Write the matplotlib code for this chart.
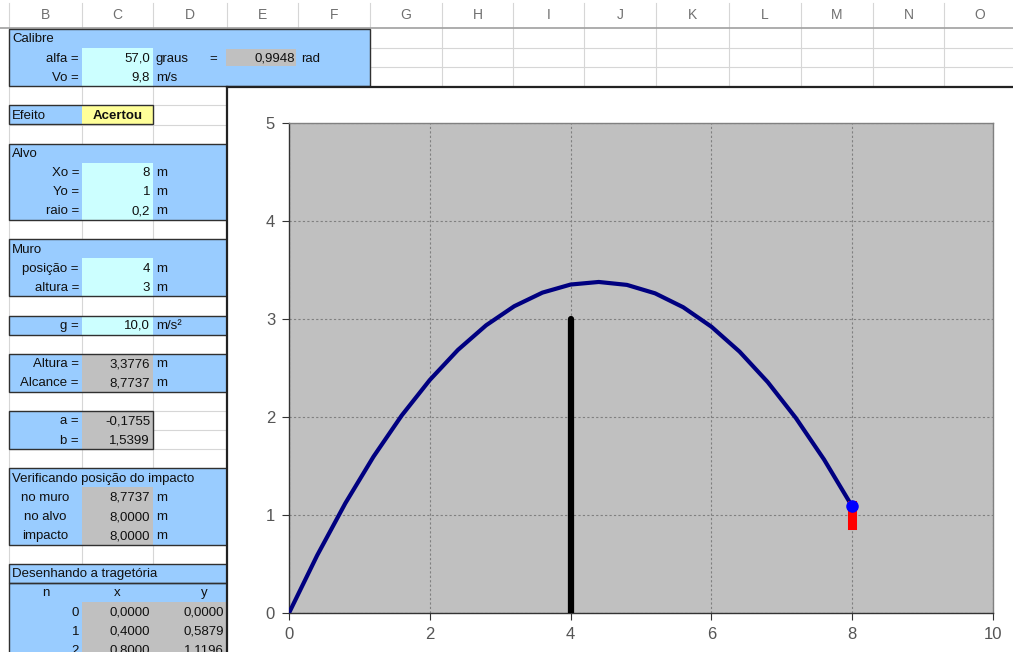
import matplotlib.pyplot as plt
from matplotlib.patches import Rectangle

plt.rcParams['font.family'] = ['Liberation Sans', 'DejaVu Sans']

# trajectory points (x, y) as listed in the sheet
traj_x = [0.0, 0.4, 0.8, 1.2, 1.6, 2.0, 2.4, 2.8, 3.2, 3.6, 4.0,
          4.4, 4.8, 5.2, 5.6, 6.0, 6.4, 6.8, 7.2, 7.6, 8.0]
traj_y = [0.0, 0.5879, 1.1196, 1.5952, 2.0146, 2.3778, 2.6849, 2.9358, 3.1306, 3.2692, 3.3516,
          3.3779, 3.3480, 3.2620, 3.1198, 2.9214, 2.6669, 2.3562, 1.9894, 1.5664, 1.0872]
wall_x = [4, 4]
wall_y = [0, 3]
target_x = [8, 8]
target_y = [0.9, 1.1]
impact_x = 8.0
impact_y = 1.0872
x_ticks = [0, 2, 4, 6, 8, 10]
y_ticks = [0, 1, 2, 3, 4, 5]

# sheet values
alfa_deg, alfa_rad, v0 = 57.0, 0.9948, 9.8
alvo = [('Xo =', '8'), ('Yo =', '1'), ('raio =', '0,2')]
muro = [('posição =', '4'), ('altura =', '3')]
g = 10.0
altura, alcance = 3.3776, 8.7737
coef_a, coef_b = -0.1755, 1.5399
verif = [('no muro', 8.7737), ('no alvo', 8.0), ('impacto', 8.0)]
n_rows = [0, 1, 2]

BLUE = '#99CCFF'
CYAN = '#CCFFFF'
GRAY = '#C0C0C0'
YELLOW = '#FFFF99'

W, H = 1013, 652
fig = plt.figure(figsize=(W / 100, H / 100), dpi=100)
sheet = fig.add_axes([0, 0, 1, 1])
sheet.set_xlim(0, W)
sheet.set_ylim(H, 0)
sheet.axis('off')

letters = list('BCDEFGHIJKLMNO')
edges = [9, 82, 153, 227, 298, 370, 442, 513, 584, 656, 729, 801, 873, 944, 1016]
ROW0, ROW_H, HEAD = 29, 19.1, 28


def top(r):
    return ROW0 + (r - 1) * ROW_H


def left(c):
    return edges[letters.index(c)]


def right(c):
    return edges[letters.index(c) + 1]


def fill(c1, c2, r1, r2, color):
    sheet.add_patch(Rectangle((left(c1), top(r1)), right(c2) - left(c1), top(r2 + 1) - top(r1),
                              facecolor=color, edgecolor='none', zorder=2))


def box(c1, c2, r1, r2):
    sheet.add_patch(Rectangle((left(c1), top(r1)), right(c2) - left(c1), top(r2 + 1) - top(r1),
                              facecolor='none', edgecolor='#303030', lw=1.0, zorder=4))


def put(r, c, s, ha='right', **kw):
    if ha == 'right':
        x = right(c) - 3
    elif ha == 'left':
        x = left(c) + 3
    else:
        x = (left(c) + right(c)) / 2
    sheet.text(x, top(r) + 10.5, s, ha=ha, va='center', fontsize=9.5, color='#101010', zorder=5, **kw)


def num(v, d):
    return f'{v:.{d}f}'.replace('.', ',')


# column headers and grid
for i, c in enumerate(letters):
    sheet.text((edges[i] + edges[i + 1]) / 2, 15, c, ha='center', va='center',
               fontsize=10, color='#707070')
    sheet.plot([edges[i], edges[i]], [3, H], color='#D6D6D6', lw=0.8, zorder=1)
sheet.plot([0, W], [HEAD, HEAD], color='#A0A0A0', lw=1.2, zorder=1)
for r in range(2, 36):
    sheet.plot([edges[0], W], [top(r), top(r)], color='#D6D6D6', lw=0.8, zorder=1)

# Calibre
fill('B', 'F', 1, 3, BLUE)
fill('C', 'C', 2, 3, CYAN)
sheet.add_patch(Rectangle((226, top(2) + 1), 70, ROW_H - 2, facecolor=GRAY, edgecolor='none', zorder=3))
box('B', 'F', 1, 3)
put(1, 'B', 'Calibre', 'left')
put(2, 'B', 'alfa =')
put(2, 'C', num(alfa_deg, 1))
put(2, 'D', 'graus', 'left')
sheet.text(213, top(2) + 10.5, '=', ha='center', va='center', fontsize=9.5, color='#101010', zorder=5)
put(2, 'E', num(alfa_rad, 4))
put(2, 'F', 'rad', 'left')
put(3, 'B', 'Vo =')
put(3, 'C', num(v0, 1))
put(3, 'D', 'm/s', 'left')

# Efeito
fill('B', 'B', 5, 5, BLUE)
fill('C', 'C', 5, 5, YELLOW)
box('B', 'C', 5, 5)
put(5, 'B', 'Efeito', 'left')
put(5, 'C', 'Acertou', 'center', fontweight='bold')

# Alvo
fill('B', 'D', 7, 10, BLUE)
fill('C', 'C', 8, 10, CYAN)
box('B', 'D', 7, 10)
put(7, 'B', 'Alvo', 'left')
for k, (lab, val) in enumerate(alvo):
    put(8 + k, 'B', lab)
    put(8 + k, 'C', val)
    put(8 + k, 'D', 'm', 'left')

# Muro
fill('B', 'D', 12, 14, BLUE)
fill('C', 'C', 13, 14, CYAN)
box('B', 'D', 12, 14)
put(12, 'B', 'Muro', 'left')
for k, (lab, val) in enumerate(muro):
    put(13 + k, 'B', lab)
    put(13 + k, 'C', val)
    put(13 + k, 'D', 'm', 'left')

# g
fill('B', 'D', 16, 16, BLUE)
fill('C', 'C', 16, 16, CYAN)
box('B', 'D', 16, 16)
put(16, 'B', 'g =')
put(16, 'C', num(g, 1))
put(16, 'D', 'm/s²', 'left')

# Altura / Alcance
fill('B', 'D', 18, 19, BLUE)
fill('C', 'C', 18, 19, GRAY)
box('B', 'D', 18, 19)
put(18, 'B', 'Altura =')
put(18, 'C', num(altura, 4))
put(18, 'D', 'm', 'left')
put(19, 'B', 'Alcance =')
put(19, 'C', num(alcance, 4))
put(19, 'D', 'm', 'left')

# a, b
fill('B', 'B', 21, 22, BLUE)
fill('C', 'C', 21, 22, GRAY)
box('B', 'C', 21, 22)
put(21, 'B', 'a =')
put(21, 'C', num(coef_a, 4))
put(22, 'B', 'b =')
put(22, 'C', num(coef_b, 4))

# Verificando
fill('B', 'D', 24, 27, BLUE)
fill('C', 'C', 25, 27, GRAY)
box('B', 'D', 24, 27)
put(24, 'B', 'Verificando posição do impacto', 'left')
for k, (lab, val) in enumerate(verif):
    put(25 + k, 'B', lab, 'center')
    put(25 + k, 'C', num(val, 4))
    put(25 + k, 'D', 'm', 'left')

# Desenhando a tragetória
fill('B', 'D', 29, 30, BLUE)
fill('B', 'B', 31, 34, BLUE)
fill('C', 'D', 31, 34, GRAY)
box('B', 'D', 29, 29)
box('B', 'D', 30, 34)
put(29, 'B', 'Desenhando a tragetória', 'left')
put(30, 'B', 'n', 'center')
put(30, 'C', 'x', 'center')
sheet.text(204, top(30) + 10.5, 'y', ha='center', va='center', fontsize=9.5, color='#101010', zorder=5)
for k, n in enumerate(n_rows):
    put(31 + k, 'B', str(n))
    put(31 + k, 'C', num(traj_x[n], 4))
    put(31 + k, 'D', num(traj_y[n], 4))

# chart area
sheet.add_patch(Rectangle((227, 87), W - 227, H - 87, facecolor='white', edgecolor='none', zorder=6))
sheet.plot([227, W], [87, 87], color='#222222', lw=1.6, zorder=7)
sheet.plot([227, 227], [87, H], color='#222222', lw=1.6, zorder=7)

ax = fig.add_axes([289 / W, 1 - 613 / H, (993 - 289) / W, (613 - 123) / H])
ax.set_facecolor(GRAY)
ax.set_xlim(0, 10)
ax.set_ylim(0, 5)
ax.set_xticks(x_ticks)
ax.set_yticks(y_ticks)
ax.grid(True, color='#808080', linestyle=(0, (2, 2)), linewidth=0.8)
ax.set_axisbelow(True)
for side in ['left', 'bottom']:
    ax.spines[side].set_color('#333333')
    ax.spines[side].set_linewidth(1.0)
for side in ['top', 'right']:
    ax.spines[side].set_color('#808080')
    ax.spines[side].set_linewidth(1.0)
ax.tick_params(direction='out', length=5, width=0.8, color='#333333',
               labelcolor='#555555', labelsize=12, pad=5)

ax.plot(traj_x, traj_y, color='#000080', lw=3, solid_joinstyle='round', zorder=3)
ax.plot(wall_x, wall_y, color='black', lw=4.5, solid_capstyle='round', zorder=4)
ax.plot(target_x, target_y, color='#FF0000', lw=6.5, solid_capstyle='projecting', zorder=4)
ax.plot([impact_x], [impact_y], 'o', color='#0000FF', ms=8, zorder=5)

fig.savefig('out.png', dpi=100)
